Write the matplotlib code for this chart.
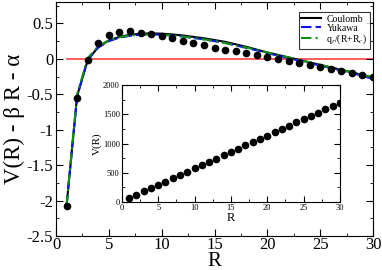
import matplotlib
matplotlib.use("Agg")
import matplotlib.pyplot as plt
from matplotlib.ticker import MultipleLocator
import numpy as np

plt.rcParams['font.family'] = ['Liberation Serif', 'DejaVu Serif']
plt.rcParams['mathtext.fontset'] = 'stix'

R = np.arange(1, 31)

# simulation points
points = [-2.07, -0.55, -0.02, 0.22, 0.33, 0.38, 0.39, 0.37, 0.35, 0.32,
          0.29, 0.25, 0.22, 0.19, 0.155, 0.13, 0.11, 0.08, 0.05, 0.03,
          0.0, -0.03, -0.065, -0.09, -0.12, -0.145, -0.17, -0.205, -0.23, -0.26]

# fitted curves
coulomb = [-2.07, -0.52, -0.02, 0.17, 0.26, 0.31, 0.34, 0.355, 0.36, 0.355,
           0.345, 0.33, 0.31, 0.29, 0.265, 0.24, 0.205, 0.17, 0.13, 0.09,
           0.055, 0.02, -0.015, -0.05, -0.085, -0.12, -0.155, -0.19, -0.23, -0.27]
yukawa = [-2.07, -0.53, -0.01, 0.16, 0.25, 0.30, 0.325, 0.34, 0.345, 0.34,
          0.33, 0.315, 0.295, 0.275, 0.25, 0.225, 0.19, 0.155, 0.12, 0.08,
          0.045, 0.01, -0.025, -0.06, -0.095, -0.13, -0.165, -0.2, -0.24, -0.285]
qr_fit = [-2.07, -0.50, 0.01, 0.18, 0.26, 0.305, 0.33, 0.34, 0.345, 0.34,
          0.33, 0.315, 0.295, 0.275, 0.25, 0.225, 0.19, 0.16, 0.125, 0.09,
          0.055, 0.02, -0.015, -0.05, -0.085, -0.12, -0.155, -0.19, -0.225, -0.26]

# inset: V(R)
V = [66, 123, 179, 235, 292, 348, 404, 460, 517, 573, 629, 686, 742, 798, 855,
     911, 967, 1023, 1080, 1136, 1192, 1249, 1305, 1361, 1418, 1474, 1530, 1586, 1643, 1699]

fig = plt.figure(figsize=(3.82, 2.70), dpi=100)
ax = fig.add_axes([0.1466, 0.126, 0.83, 0.866])

ax.plot([1, 30], [0, 0], color='#ff5050', lw=1.3, zorder=1)
ax.plot(R, coulomb, color='black', lw=1.5, label='Coulomb', zorder=2)
ax.plot(R, yukawa, color='#1010ee', lw=1.5, ls=(0, (5, 2)), label='Yukawa', zorder=3)
ax.plot(R, qr_fit, color='#109010', lw=1.5, ls=(0, (5, 2, 1, 2)),
        label=r'q$_r$/(R+R$_c$)', zorder=4)
ax.plot(R, points, 'o', color='black', ms=4.5, zorder=5)

ax.set_xlim(0, 30)
ax.set_ylim(-2.5, 0.8)
ax.xaxis.set_major_locator(MultipleLocator(5))
ax.xaxis.set_minor_locator(MultipleLocator(2.5))
ax.yaxis.set_major_locator(MultipleLocator(0.5))
ax.yaxis.set_minor_locator(MultipleLocator(0.25))
ax.set_yticks([-2.5, -2, -1.5, -1, -0.5, 0, 0.5])
ax.set_yticklabels(['-2.5', '-2', '-1.5', '-1', '-0.5', '0', '0.5'])
ax.tick_params(which='both', direction='in', top=True, right=True, labelsize=12)
ax.tick_params(axis='x', pad=0.5)
ax.tick_params(axis='y', pad=2)
ax.tick_params(which='major', length=5)
ax.tick_params(which='minor', length=2.5)
ax.set_xlabel('R', fontsize=15, labelpad=-0.5)
ax.set_ylabel('V(R) - β R - α', fontsize=16.5, labelpad=1)

leg = ax.legend(loc='upper right', fontsize=7, frameon=True, fancybox=False,
                edgecolor='black', handlelength=2.0, borderpad=0.25,
                labelspacing=0.0, handletextpad=0.6, borderaxespad=0,
                bbox_to_anchor=(0.99, 0.957))
leg.get_frame().set_linewidth(0.8)

ins = fig.add_axes([0.319, 0.252, 0.571, 0.433])
ins.plot(R, V, 'o', color='black', ms=4.5)
ins.set_xlim(0, 30)
ins.set_ylim(0, 2000)
ins.xaxis.set_major_locator(MultipleLocator(5))
ins.xaxis.set_minor_locator(MultipleLocator(2.5))
ins.yaxis.set_major_locator(MultipleLocator(500))
ins.yaxis.set_minor_locator(MultipleLocator(250))
ins.tick_params(which='both', direction='in', top=True, right=True, labelsize=6, pad=1.5)
ins.tick_params(which='major', length=4)
ins.tick_params(which='minor', length=2)
ins.set_xlabel('R', fontsize=9, labelpad=0)
ins.set_ylabel('V(R)', fontsize=8, labelpad=1)

fig.savefig('out.png', dpi=100)
